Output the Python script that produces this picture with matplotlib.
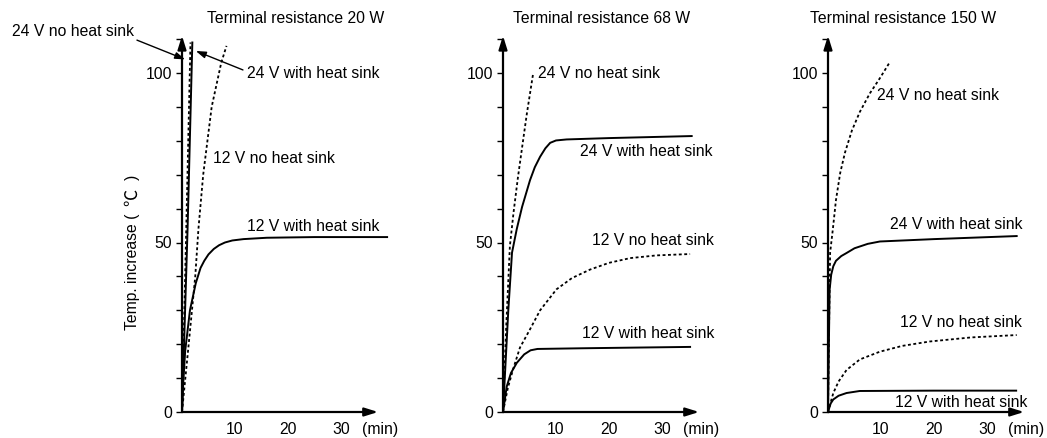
import matplotlib
matplotlib.use("Agg")
import matplotlib.pyplot as plt
from matplotlib.ticker import MultipleLocator, FixedLocator

plt.rcParams['font.family'] = ['Liberation Sans', 'DejaVu Sans']

# ---------------- data ----------------
titles = ["Terminal resistance 20 W", "Terminal resistance 68 W", "Terminal resistance 150 W"]
y_label_parts = ["Temp. increase (", "℃", ")"]
x_tick_vals = [10, 20, 30]
y_tick_vals = [0, 50, 100]
x_unit = "(min)"

# 20 W
p1_24_nohs_x = [0, 0.8, 1.6]
p1_24_nohs_y = [0, 54, 109]
p1_24_hs_x = [0, 1.05, 1.95]
p1_24_hs_y = [0, 54, 109]
p1_12_nohs_x = [0, 1.2, 2.5, 3.1, 4.0, 5.6, 7.4, 8.4]
p1_12_nohs_y = [0, 19, 40, 54, 70, 90, 103, 108]
p1_12_hs_x = [0, 0.25, 0.6, 1.5, 2.6, 3.5, 4.2, 5.0, 6.0, 7.0, 8.1, 9.5, 11.6, 16, 25, 38.7]
p1_12_hs_y = [0, 9, 18, 30, 38, 42.5, 44.6, 46.5, 48.1, 49.2, 50.0, 50.6, 51.0, 51.4, 51.6, 51.6]

# 68 W
p2_24_nohs_x = [0, 0.6, 1.3, 2.0, 2.8, 3.6, 4.5, 5.2, 5.7]
p2_24_nohs_y = [0, 25, 49, 59, 69, 78, 88, 95, 100]
p2_24_hs_x = [0, 0.5, 1.0, 1.7, 2.6, 3.6, 5.1, 6.0, 7.0, 8.0, 8.9, 10.0, 12, 20, 35.6]
p2_24_hs_y = [0, 15, 30, 47, 54, 60.5, 68.4, 72.2, 75.3, 77.8, 79.4, 80.1, 80.4, 80.8, 81.4]
p2_12_nohs_x = [0, 0.9, 1.9, 3.2, 5.1, 7.0, 10.1, 13, 16.4, 20, 24, 29, 35.3]
p2_12_nohs_y = [0, 7, 12.6, 19, 24.4, 30, 36.2, 39.5, 42, 44, 45.4, 46.2, 46.6]
p2_12_hs_x = [0, 0.7, 1.5, 2.6, 4, 5.2, 6.5, 15, 25, 35.3]
p2_12_hs_y = [0, 7.5, 11.5, 14.5, 17, 18.2, 18.6, 18.8, 19, 19.2]

# 150 W
p3_24_nohs_x = [0, 0.2, 0.4, 0.9, 1.5, 2.3, 3.2, 4.5, 6.0, 7.9, 9.8, 11.7]
p3_24_nohs_y = [0, 25, 47, 53.7, 62.5, 70.5, 76.5, 83, 88.5, 94, 98.5, 103.3]
p3_24_hs_x = [0, 0.3, 0.6, 1.0, 1.5, 2.5, 3.5, 5.0, 7.5, 9.8, 20, 35.6]
p3_24_hs_y = [0, 36, 40.5, 43, 44.6, 46.0, 46.9, 48.3, 49.6, 50.3, 51, 51.9]
p3_12_nohs_x = [0, 1, 2, 3.5, 6, 9.8, 14, 19.2, 27, 35.6]
p3_12_nohs_y = [0, 5.6, 9, 12.4, 15.5, 17.8, 19.5, 20.8, 22, 22.7]
p3_12_hs_x = [0, 0.5, 1, 2, 3.5, 6, 20, 35.5]
p3_12_hs_y = [0, 2.5, 3.7, 4.8, 5.6, 6.2, 6.3, 6.3]

series_labels = ["24 V no heat sink", "24 V with heat sink", "12 V no heat sink", "12 V with heat sink"]

panels = [
    [(p1_24_nohs_x, p1_24_nohs_y, True), (p1_24_hs_x, p1_24_hs_y, False),
     (p1_12_nohs_x, p1_12_nohs_y, True), (p1_12_hs_x, p1_12_hs_y, False)],
    [(p2_24_nohs_x, p2_24_nohs_y, True), (p2_24_hs_x, p2_24_hs_y, False),
     (p2_12_nohs_x, p2_12_nohs_y, True), (p2_12_hs_x, p2_12_hs_y, False)],
    [(p3_24_nohs_x, p3_24_nohs_y, True), (p3_24_hs_x, p3_24_hs_y, False),
     (p3_12_nohs_x, p3_12_nohs_y, True), (p3_12_hs_x, p3_12_hs_y, False)],
]

# label positions (data coords, left/center)
label_pos = [
    [None, None, (5.85, 74.9), (12.3, 54.6)],
    [(6.6, 100), (14.5, 76.7), (16.8, 50.7), (14.9, 23.3)],
    [(9.2, 93.5), (11.7, 55.2), (13.6, 26.5), (12.6, 2.9)],
]
title_x = [4.7, 1.9, -3.4]

# ---------------- figure ----------------
W, H = 1047, 438
fig = plt.figure(figsize=(W / 100, H / 100), dpi=100)
axis_px = [182, 503, 828]
XMAX, YMAX = 37, 111
ax_w = XMAX * 5.3 / W
ax_h = YMAX * 3.39 / H
ax_b = 26 / H
FS = 11.3

for i, ax_x in enumerate(axis_px):
    ax = fig.add_axes([ax_x / W, ax_b, ax_w, ax_h])
    ax.set_xlim(0, XMAX)
    ax.set_ylim(0, YMAX)
    for s in ["top", "right", "left", "bottom"]:
        ax.spines[s].set_visible(False)
    ax.patch.set_alpha(0)

    # axes arrows
    ax.annotate("", xy=(0, YMAX), xytext=(0, 0), annotation_clip=False,
                arrowprops=dict(arrowstyle="-|>,head_length=0.8,head_width=0.25",
                                color="black", lw=1.6, shrinkA=0, shrinkB=0))
    ax.annotate("", xy=(XMAX, 0), xytext=(0, 0), annotation_clip=False,
                arrowprops=dict(arrowstyle="-|>,head_length=0.8,head_width=0.25",
                                color="black", lw=1.6, shrinkA=0, shrinkB=0))

    ax.yaxis.set_major_locator(FixedLocator(y_tick_vals))
    ax.yaxis.set_minor_locator(MultipleLocator(10))
    ax.tick_params(axis="y", which="both", direction="out", length=4, width=1,
                   labelsize=FS, pad=3)
    ax.set_xticks(x_tick_vals)
    ax.tick_params(axis="x", length=0, labelsize=FS, pad=7)
    ax.text(34.0, -5.2, x_unit, fontsize=FS, ha="left", va="center")

    for (xs, ys, dotted), lab, pos in zip(panels[i], series_labels, label_pos[i]):
        if dotted:
            ax.plot(xs, ys, color="black", lw=1.3, linestyle=(0, (1.6, 1.4)),
                    clip_on=False, solid_capstyle="butt")
        else:
            ax.plot(xs, ys, color="black", lw=1.4, clip_on=False)
        if pos is not None:
            ax.text(pos[0], pos[1], lab, fontsize=FS, ha="left", va="center")

    ax.text(title_x[i], 116.2, titles[i], fontsize=FS, ha="left", va="center",
            clip_on=False)

    if i == 0:
        ax.text(-32.1, 112.1, series_labels[0], fontsize=FS, ha="left", va="center")
        ax.annotate("", xy=(0.6, 104), xytext=(-8.5, 109.7), annotation_clip=False,
                    arrowprops=dict(arrowstyle="-|>,head_length=0.6,head_width=0.2",
                                    color="black", lw=1.0, shrinkA=0, shrinkB=0))
        ax.text(12.3, 100, series_labels[1], fontsize=FS, ha="left", va="center")
        ax.annotate("", xy=(2.6, 106.5), xytext=(11.5, 100.9), annotation_clip=False,
                    arrowprops=dict(arrowstyle="-|>,head_length=0.6,head_width=0.2",
                                    color="black", lw=1.0, shrinkA=0, shrinkB=0))

# y label built from pieces, laid out upward from its bottom start
renderer = fig.canvas.get_renderer()
ylab_x = 132
start_py = 330
gaps = [8, 8, 0]
piece_fonts = [['Liberation Sans'], ['Noto Sans CJK JP', 'DejaVu Sans'], ['Liberation Sans']]
piece_sizes = [FS, FS * 1.1, FS]
py = start_py
for txt, fam, gap, fs in zip(y_label_parts, piece_fonts, gaps, piece_sizes):
    t = fig.text(ylab_x / W, (H - py) / H, txt, fontsize=fs, rotation=90,
                 rotation_mode="anchor", ha="left", va="center", family=fam)
    ext = t.get_window_extent(renderer)
    py -= ext.height + gap

fig.savefig("out.png", dpi=100)
